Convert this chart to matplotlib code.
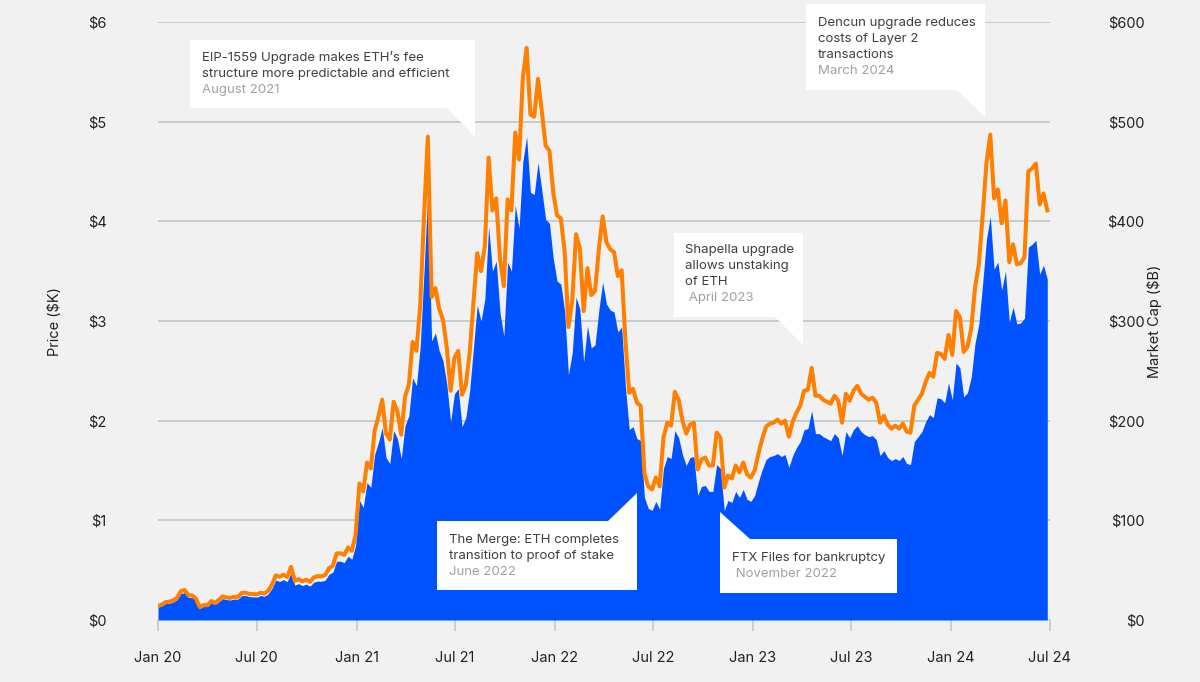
import numpy as np
import pandas as pd
import matplotlib
matplotlib.use('Agg')
import matplotlib.pyplot as plt
from matplotlib.patches import Polygon

plt.rcParams['font.family'] = ['Inter', 'DejaVu Sans']

# ETH weekly price ($K), one value per week starting 1 Jan 2020
price_2020 = [0.130, 0.141, 0.165, 0.168, 0.180, 0.204, 0.265, 0.275, 0.227,
              0.224, 0.195, 0.117, 0.136, 0.135, 0.172, 0.155, 0.182, 0.215,
              0.205, 0.200, 0.210, 0.208, 0.244, 0.246, 0.235, 0.232,
              0.230, 0.245, 0.238, 0.262, 0.318, 0.400, 0.387, 0.405, 0.385,
              0.475, 0.350, 0.365, 0.345, 0.360, 0.340, 0.380, 0.390, 0.388,
              0.400, 0.460, 0.480, 0.590, 0.590, 0.575, 0.640, 0.610, 0.750]
price_2021 = [1.20, 1.13, 1.38, 1.33, 1.66, 1.78, 1.93, 1.63,
              1.57, 1.90, 1.82, 1.62, 1.95, 2.05, 2.43, 2.35, 2.75,
              3.50, 4.30, 2.80, 2.88, 2.70, 2.60, 2.36, 1.99, 2.27,
              2.32, 1.94, 2.03, 2.30, 2.73, 3.16, 3.00, 3.22,
              3.95, 3.50, 3.60, 3.08, 2.85, 3.59, 3.50, 4.16, 3.93,
              4.60, 4.85, 4.29, 4.27, 4.59, 4.31, 4.02, 3.98, 3.63]
price_2022 = [3.40, 3.37, 3.10, 2.46, 2.68, 3.24, 3.12, 2.59,
              2.95, 2.73, 2.76, 3.11, 3.39, 3.17, 3.11, 3.09, 2.89,
              2.94, 2.34, 1.91, 1.94, 1.82, 1.80, 1.23, 1.12, 1.10,
              1.19, 1.11, 1.52, 1.64, 1.62, 1.90, 1.83, 1.66, 1.55,
              1.63, 1.64, 1.25, 1.34, 1.35, 1.29, 1.29, 1.56,
              1.52, 1.10, 1.20, 1.18, 1.29, 1.23, 1.31, 1.21, 1.19]
price_2023 = [1.25, 1.39, 1.51, 1.61, 1.64, 1.65, 1.67, 1.64,
              1.66, 1.53, 1.65, 1.73, 1.79, 1.91, 1.92, 2.10, 1.87,
              1.87, 1.84, 1.82, 1.80, 1.87, 1.83, 1.65, 1.89, 1.83,
              1.91, 1.95, 1.89, 1.86, 1.84, 1.85, 1.81, 1.65, 1.70,
              1.63, 1.60, 1.62, 1.60, 1.64, 1.57, 1.56, 1.79,
              1.84, 1.89, 1.99, 2.06, 2.03, 2.23, 2.22, 2.18, 2.38]
price_2024 = [2.21, 2.58, 2.53, 2.24, 2.28, 2.44, 2.78, 2.97, 3.38,
              3.82, 4.05, 3.52, 3.59, 3.31, 3.50, 2.99, 3.14,
              2.97, 2.98, 3.03, 3.74, 3.77, 3.81, 3.47, 3.56, 3.42]

# ETH market cap ($B), same weeks
mcap_2020 = [14.2, 15.4, 18.0, 18.4, 19.7, 22.3, 29.0, 30.1, 24.9,
             24.6, 21.4, 12.9, 15.0, 14.9, 19.0, 17.1, 20.1, 23.8,
             22.7, 22.2, 23.3, 23.1, 27.1, 27.4, 26.2, 25.9,
             25.7, 27.4, 26.6, 29.3, 35.6, 44.8, 43.4, 45.4, 43.2,
             53.3, 39.3, 41.0, 38.8, 40.5, 38.3, 42.8, 44.0, 43.8,
             45.2, 52.0, 54.3, 66.8, 66.9, 65.3, 72.7, 69.4, 85.4]
mcap_2021 = [137, 129, 158, 152, 190, 204, 221, 187,
             181, 219, 209, 186, 224, 236, 279, 270, 316,
             405, 485, 324, 333, 312, 301, 273, 230, 263,
             270, 226, 236, 268, 318, 368, 350, 375,
             464, 411, 423, 362, 335, 422, 411, 489, 462,
             544, 574, 507, 505, 543, 510, 476, 471, 429]
mcap_2022 = [406, 403, 370, 294, 320, 387, 373, 310,
             353, 326, 330, 372, 405, 379, 372, 369, 345,
             351, 280, 228, 232, 218, 215, 147, 134, 131,
             143, 134, 183, 198, 195, 229, 221, 200, 187,
             196, 198, 151, 161, 163, 155, 155, 188,
             183, 133, 145, 142, 155, 148, 158, 146, 143]
mcap_2023 = [150, 167, 182, 194, 197, 198, 201, 197,
             200, 184, 199, 208, 215, 230, 231, 253, 225,
             225, 221, 219, 217, 225, 220, 198, 227, 220,
             230, 235, 227, 224, 221, 223, 218, 198, 205,
             196, 192, 195, 192, 197, 189, 188, 215,
             221, 227, 239, 248, 244, 268, 267, 262, 286]
mcap_2024 = [266, 310, 304, 269, 274, 293, 334, 357, 406,
             459, 487, 423, 432, 398, 421, 359, 377,
             357, 358, 364, 450, 453, 458, 417, 428, 411]

price = np.array(price_2020 + price_2021 + price_2022 + price_2023 + price_2024)
mcap = np.array(mcap_2020 + mcap_2021 + mcap_2022 + mcap_2023 + mcap_2024)
dates = pd.date_range('2020-01-01', periods=len(price), freq='7D')

tick_dates = pd.to_datetime(['2020-01-01', '2020-07-01', '2021-01-01', '2021-07-01',
                             '2022-01-01', '2022-07-01', '2023-01-01', '2023-07-01',
                             '2024-01-01', '2024-07-01'])
tick_labels = ['Jan 20', 'Jul 20', 'Jan 21', 'Jul 21', 'Jan 22',
               'Jul 22', 'Jan 23', 'Jul 23', 'Jan 24', 'Jul 24']
price_ticks = [0, 1, 2, 3, 4, 5, 6]
mcap_ticks = [0, 100, 200, 300, 400, 500, 600]

BG = '#f1f1f1'
BLUE = '#0052ff'
ORANGE = '#ff7f00'
GRID = '#bfcccb'
TXT = '#3b3f46'
DATE_TXT = '#9aa3a3'

fig = plt.figure(figsize=(12, 6.82), dpi=100, facecolor=BG)
ax = fig.add_axes([158 / 1200, 62 / 682, 892 / 1200, 598 / 682])
ax.set_facecolor(BG)

ax.fill_between(dates, 0, price, color=BLUE, lw=0, zorder=2)
ax.set_xlim(tick_dates[0], tick_dates[-1])
ax.set_ylim(0, 6)
ax.set_yticks(price_ticks)
ax.set_yticklabels(['$%d' % v for v in price_ticks])
ax.set_xticks(tick_dates)
ax.set_xticklabels(tick_labels)
ax.grid(axis='y', color=GRID, lw=1.3, zorder=0)
ax.set_axisbelow(True)
ax.tick_params(axis='x', length=8, width=1.2, color=GRID, pad=14, labelsize=10.5, labelcolor='#222222')
ax.tick_params(axis='y', length=0, pad=37, labelsize=10.5, labelcolor='#222222')

ax2 = ax.twinx()
ax2.plot(dates, mcap, color=ORANGE, lw=2.9, solid_joinstyle='round', zorder=3)
ax2.set_ylim(0, 600)
ax2.set_yticks(mcap_ticks)
ax2.set_yticklabels(['$%d' % v for v in mcap_ticks])
ax2.tick_params(axis='y', length=0, pad=68, labelsize=10.5, labelcolor='#222222')
for t in ax2.get_yticklabels():
    t.set_ha('right')

for a in (ax, ax2):
    for s in a.spines.values():
        s.set_visible(False)

fig.text(55 / 1200, 1 - 321 / 682, 'Price ($K)', rotation=90, ha='center', va='center',
         fontsize=10.5, color='#222222')
fig.text(1155 / 1200, 1 - 321 / 682, 'Market Cap ($B)', rotation=90, ha='center', va='center',
         fontsize=10.5, color='#222222')

# callout boxes, drawn in pixel coordinates on an overlay
ov = fig.add_axes([0, 0, 1, 1])
ov.set_xlim(0, 1200)
ov.set_ylim(682, 0)
ov.axis('off')


def callout(box, tail, lines, date, tx, ty):
    x0, y0, x1, y1 = box
    ov.add_patch(Polygon([(x0, y0), (x1, y0), (x1, y1), (x0, y1)], closed=True, fc='white', ec='none'))
    ov.add_patch(Polygon(tail, closed=True, fc='white', ec='none'))
    for i, line in enumerate(lines):
        ov.text(tx, ty + 16 * i, line, fontsize=9.5, color=TXT, va='center', ha='left')
    ov.text(tx, ty + 16 * len(lines), date, fontsize=9.5, color=DATE_TXT, va='center', ha='left')


callout((190, 40, 475, 108), [(447, 108), (475, 108), (475, 137)],
        ['EIP-1559 Upgrade makes ETH\u2019s fee', 'structure more predictable and efficient'],
        'August 2021', 202, 58)
callout((806, 4, 985, 90), [(957, 90), (985, 90), (985, 117)],
        ['Dencun upgrade reduces', 'costs of Layer 2', 'transactions'],
        'March 2024', 818, 23)
callout((674, 233, 803, 317), [(775, 317), (803, 317), (803, 345)],
        ['Shapella upgrade', 'allows unstaking', 'of ETH'],
        ' April 2023', 685, 250)
callout((437, 521, 637, 590), [(608, 521), (637, 521), (637, 493)],
        ['The Merge: ETH completes', 'transition to proof of stake'],
        'June 2022', 449, 540)
callout((720, 539, 897, 593), [(720, 539), (750, 539), (720, 512)],
        ['FTX Files for bankruptcy'],
        ' November 2022', 732, 558)

fig.savefig('out.png', dpi=100, facecolor=BG)
